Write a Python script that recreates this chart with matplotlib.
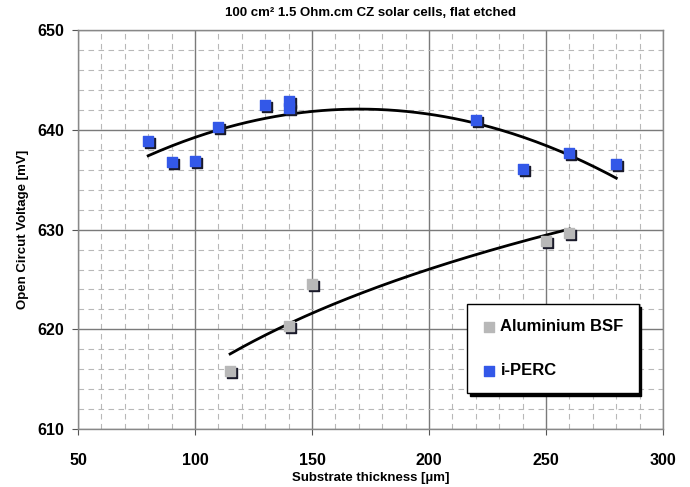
import numpy as np
import matplotlib
matplotlib.use('Agg')
from matplotlib import pyplot as plt
from matplotlib import transforms
from matplotlib.ticker import MultipleLocator

plt.rcParams['font.family'] = ['Liberation Sans', 'DejaVu Sans']
plt.rcParams['font.weight'] = 'bold'

# i-PERC cells
perc_thickness = [80, 90, 100, 110, 130, 140, 140, 220, 240, 260, 280]
perc_voc = [638.9, 636.8, 636.9, 640.3, 642.5, 642.9, 642.2, 641.0, 636.1, 637.7, 636.6]

# Aluminium BSF cells
al_thickness = [115, 140, 150, 250, 260]
al_voc = [615.8, 620.3, 624.5, 628.9, 629.7]

PERC_COLOR = '#3358e8'
AL_COLOR = '#b8b8b8'
SHADOW = '#1a1a2a'

fig = plt.figure(figsize=(6.9, 4.87), dpi=100)
ax = fig.add_axes([0.113, 0.119, 0.848, 0.819])

ax.set_xlim(50, 300)
ax.set_ylim(610, 650)
ax.xaxis.set_major_locator(MultipleLocator(50))
ax.xaxis.set_minor_locator(MultipleLocator(10))
ax.yaxis.set_major_locator(MultipleLocator(10))
ax.yaxis.set_minor_locator(MultipleLocator(2))
ax.grid(which='major', color='#7a7a7a', linewidth=1.0)
ax.grid(which='minor', color='#b8b8b8', linewidth=0.8, linestyle=(0, (5, 4)))
ax.set_axisbelow(True)
ax.tick_params(which='major', direction='out', length=4, color='#555555',
               labelsize=11.5)
ax.tick_params(axis='x', pad=13)
ax.tick_params(axis='y', pad=6)
ax.tick_params(which='minor', length=0)
for s in ax.spines.values():
    s.set_color('#888888')
    s.set_linewidth(1.0)

# trend lines (Excel style fits)
xp = np.linspace(min(perc_thickness), max(perc_thickness), 200)
cp = np.polyfit(perc_thickness, perc_voc, 2)
ax.plot(xp, np.polyval(cp, xp), color='black', linewidth=2, zorder=3)

xa = np.linspace(min(al_thickness), max(al_thickness), 200)
ca = np.polyfit(np.log(al_thickness), al_voc, 1)
ax.plot(xa, np.polyval(ca, np.log(xa)), color='black', linewidth=2, zorder=3)

# markers with a small 3D shadow
shadow_tr = transforms.offset_copy(ax.transData, fig=fig, x=2, y=-2, units='dots')
ax.scatter(al_thickness, al_voc, s=55, marker='s', color=SHADOW, transform=shadow_tr, zorder=4)
ax.scatter(al_thickness, al_voc, s=55, marker='s', color=AL_COLOR, zorder=5,
           label='Aluminium BSF')
ax.scatter(perc_thickness, perc_voc, s=55, marker='s', color=SHADOW, transform=shadow_tr, zorder=4)
ax.scatter(perc_thickness, perc_voc, s=55, marker='s', color=PERC_COLOR, zorder=5,
           label='i-PERC')

ax.set_xlabel('Substrate thickness [µm]', fontsize=9.5, fontweight='bold', labelpad=3)
ax.set_ylabel('Open Circut Voltage [mV]', fontsize=9.5, fontweight='bold', labelpad=6)
ax.set_title('100 cm² 1.5 Ohm.cm CZ solar cells, flat etched', fontsize=9.5,
             fontweight='bold', pad=10)

leg = ax.legend(loc='upper left', bbox_to_anchor=(0.665, 0.313), borderaxespad=0,
                fontsize=12, frameon=True, fancybox=False, edgecolor='black',
                framealpha=1, labelspacing=1.75, handletextpad=0.3,
                handlelength=0.8, borderpad=0.9, markerscale=1.0,
                shadow={'color': 'black', 'alpha': 1, 'ox': 2, 'oy': -2})
leg.get_frame().set_linewidth(1.0)

fig.savefig('out.png', dpi=100)
